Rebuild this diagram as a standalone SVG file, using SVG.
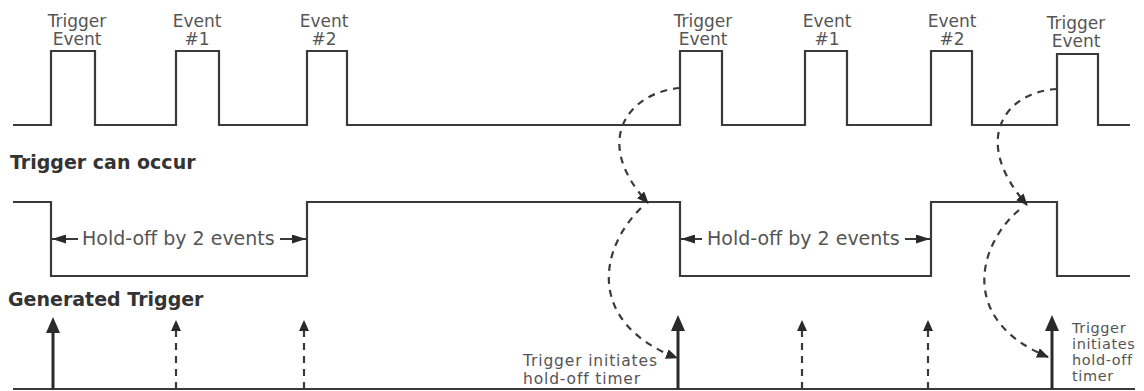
<svg xmlns="http://www.w3.org/2000/svg" width="1144" height="391" viewBox="0 0 1144 391">
<defs>
<style>
.wave{fill:none;stroke:#3a3a3a;stroke-width:2.2}
.lbl{font-family:"DejaVu Sans",sans-serif;font-size:17px;fill:#555;text-anchor:middle}
.bold{font-family:"DejaVu Sans",sans-serif;font-size:19px;font-weight:bold;fill:#333}
.hold{font-family:"DejaVu Sans",sans-serif;font-size:19px;fill:#555}
.note{font-family:"DejaVu Sans",sans-serif;font-size:15.5px;letter-spacing:0.85px;fill:#555}
.note2{font-family:"DejaVu Sans",sans-serif;font-size:14.5px;letter-spacing:0.6px;fill:#555}
.curve{fill:none;stroke:#3a3a3a;stroke-width:2.2;stroke-dasharray:7 6}
.harr{stroke:#3a3a3a;stroke-width:2}
.solid{stroke:#2a2a2a;stroke-width:3}
.dash{stroke:#3a3a3a;stroke-width:2.2;stroke-dasharray:7 6}
.head{fill:#2a2a2a}
</style>
<marker id="ah" viewBox="0 0 12 10" refX="11" refY="5" markerWidth="12" markerHeight="10" markerUnits="userSpaceOnUse" orient="auto">
<path d="M0 0 L12 5 L0 10 Z" fill="#2a2a2a"/>
</marker>
<marker id="hh" viewBox="0 0 14 9" refX="14" refY="4.5" markerWidth="14" markerHeight="9" markerUnits="userSpaceOnUse" orient="auto">
<path d="M0 0 L14 4.5 L0 9 Z" fill="#2a2a2a"/>
</marker>
</defs>
<rect width="1144" height="391" fill="#fff"/>

<g id="event-signal">
<path class="wave" d="M13 125 H51 V51 H95 V125 H176 V51 H219 V125 H307 V51 H347 V125 H680 V51 H722 V125 H805 V51 H847 V125 H931 V51 H972 V125 H1057 V54 H1098 V125 H1130"/>
<text class="lbl" x="77" y="27">Trigger</text><text class="lbl" x="77" y="45">Event</text>
<text class="lbl" x="197" y="27">Event</text><text class="lbl" x="197" y="45">#1</text>
<text class="lbl" x="324" y="27">Event</text><text class="lbl" x="324" y="45">#2</text>
<text class="lbl" x="703" y="27">Trigger</text><text class="lbl" x="703" y="45">Event</text>
<text class="lbl" x="827" y="27">Event</text><text class="lbl" x="827" y="45">#1</text>
<text class="lbl" x="952" y="27">Event</text><text class="lbl" x="952" y="45">#2</text>
<text class="lbl" x="1076" y="29">Trigger</text><text class="lbl" x="1076" y="47">Event</text>
</g>

<g id="trigger-can-occur">
<text class="bold" x="10" y="169">Trigger can occur</text>
<path class="wave" d="M13 202 H51 V276 H307 V202 H680 V276 H931 V202 H1057 V276 H1130"/>
<text class="hold" x="82" y="245">Hold-off by 2 events</text>
<text class="hold" x="707" y="245">Hold-off by 2 events</text>
</g>

<g id="generated-trigger">
<text class="bold" x="8" y="306">Generated Trigger</text>
<line class="wave" x1="13" y1="389" x2="1135" y2="389"/>
<text class="note" x="523" y="366">Trigger initiates</text>
<text class="note" x="523" y="384">hold-off timer</text>
<text class="note2" x="1072" y="333">Trigger</text>
<text class="note2" x="1072" y="349">initiates</text>
<text class="note2" x="1072" y="365">hold-off</text>
<text class="note2" x="1072" y="381">timer</text>
</g>

<g id="connectors">
<line class="harr" x1="78" y1="239" x2="52" y2="239" marker-end="url(#hh)"/>
<line class="harr" x1="280" y1="239" x2="306" y2="239" marker-end="url(#hh)"/>
<line class="harr" x1="702" y1="239" x2="681" y2="239" marker-end="url(#hh)"/>
<line class="harr" x1="905" y1="239" x2="930" y2="239" marker-end="url(#hh)"/>

<line class="solid" x1="53" y1="389" x2="53" y2="330"/>
<polygon class="head" points="53,317 46,333 60,333"/>
<line class="solid" x1="678" y1="389" x2="678" y2="328"/>
<polygon class="head" points="678,315 671,331 685,331"/>
<line class="solid" x1="1052" y1="389" x2="1052" y2="328"/>
<polygon class="head" points="1052,315 1045,331 1059,331"/>

<line class="dash" x1="176" y1="389" x2="176" y2="331"/>
<polygon class="head" points="176,320 171,331 181,331"/>
<line class="dash" x1="304" y1="389" x2="304" y2="331"/>
<polygon class="head" points="304,320 299,331 309,331"/>
<line class="dash" x1="802" y1="389" x2="802" y2="331"/>
<polygon class="head" points="802,320 797,331 807,331"/>
<line class="dash" x1="928" y1="389" x2="928" y2="331"/>
<polygon class="head" points="928,320 923,331 933,331"/>

<path class="curve" d="M680 88 C630 92 590 140 648 203" marker-end="url(#ah)"/>
<path class="curve" d="M641 208 C600 248 585 322 677 358" marker-end="url(#ah)"/>
<path class="curve" d="M1057 89 C1005 92 970 140 1027 205" marker-end="url(#ah)"/>
<path class="curve" d="M1019 210 C978 245 958 320 1048 357" marker-end="url(#ah)"/>
</g>
</svg>
